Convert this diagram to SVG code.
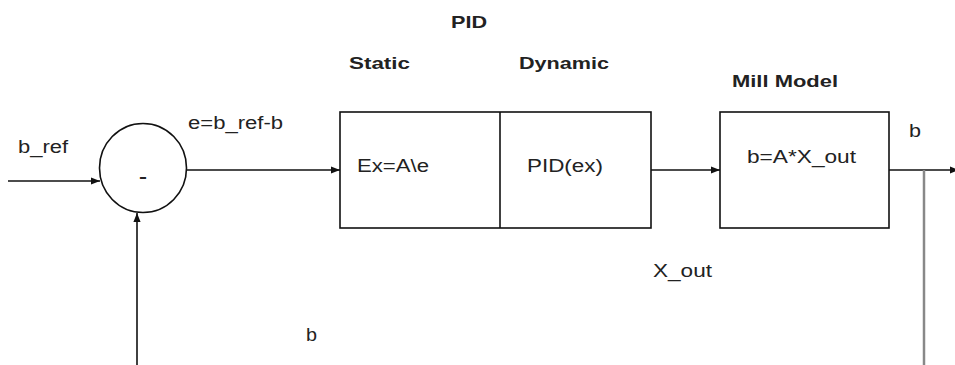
<svg xmlns="http://www.w3.org/2000/svg" width="955" height="365" viewBox="0 0 955 365">
<style>
text{font-family:"Liberation Sans",Arial,sans-serif;fill:#222;font-size:18px}
.b{font-weight:bold;font-size:17px}
.box{fill:#fff;stroke:#111;stroke-width:1.6}
.ln{fill:none;stroke:#111;stroke-width:1.6}
</style>
<defs>
<marker id="ah" viewBox="0 0 10 10" refX="10" refY="5" markerWidth="9" markerHeight="9" markerUnits="userSpaceOnUse" orient="auto"><path d="M0,1 L10,5 L0,9 Z" fill="#111"/></marker>
</defs>
<rect width="955" height="365" fill="#fff"/>
<g id="connectors">
<line class="ln" x1="8" y1="181" x2="100" y2="181" marker-end="url(#ah)"/>
<line class="ln" x1="187" y1="170" x2="340" y2="170" marker-end="url(#ah)"/>
<line class="ln" x1="651" y1="170" x2="720" y2="170" marker-end="url(#ah)"/>
<line class="ln" x1="889" y1="170" x2="959" y2="170" marker-end="url(#ah)"/>
<line x1="924" y1="170" x2="924" y2="365" stroke="#888" stroke-width="2.5"/>
<line class="ln" x1="137" y1="365" x2="137" y2="213" marker-end="url(#ah)"/>
</g>
<g id="sum">
<ellipse cx="143" cy="168" rx="43.5" ry="44.5" class="box"/>
<text class="b" x="139" y="182" font-size="21" textLength="8" lengthAdjust="spacingAndGlyphs">-</text>
</g>
<g id="pid">
<rect x="340" y="112" width="311" height="116" class="box"/>
<line class="ln" x1="500" y1="112" x2="500" y2="228"/>
<text x="357" y="172" textLength="72" lengthAdjust="spacingAndGlyphs">Ex=A\e</text>
<text x="527" y="172" textLength="76" lengthAdjust="spacingAndGlyphs">PID(ex)</text>
<text class="b" x="451" y="28" textLength="36" lengthAdjust="spacingAndGlyphs">PID</text>
<text class="b" x="349" y="69" textLength="61" lengthAdjust="spacingAndGlyphs">Static</text>
<text class="b" x="519" y="69" textLength="90" lengthAdjust="spacingAndGlyphs">Dynamic</text>
</g>
<g id="mill">
<rect x="720" y="112" width="169" height="116" class="box"/>
<text x="747" y="163" textLength="109" lengthAdjust="spacingAndGlyphs">b=A*X_out</text>
<text class="b" x="732" y="87" textLength="106" lengthAdjust="spacingAndGlyphs">Mill Model</text>
</g>
<g id="labels">
<text x="18" y="153" textLength="50" lengthAdjust="spacingAndGlyphs">b_ref</text>
<text x="188" y="129" textLength="95" lengthAdjust="spacingAndGlyphs">e=b_ref-b</text>
<text x="909" y="137" textLength="12" lengthAdjust="spacingAndGlyphs">b</text>
<text x="653" y="277" textLength="59" lengthAdjust="spacingAndGlyphs">X_out</text>
<text x="306" y="341" textLength="11" lengthAdjust="spacingAndGlyphs">b</text>
</g>
</svg>
